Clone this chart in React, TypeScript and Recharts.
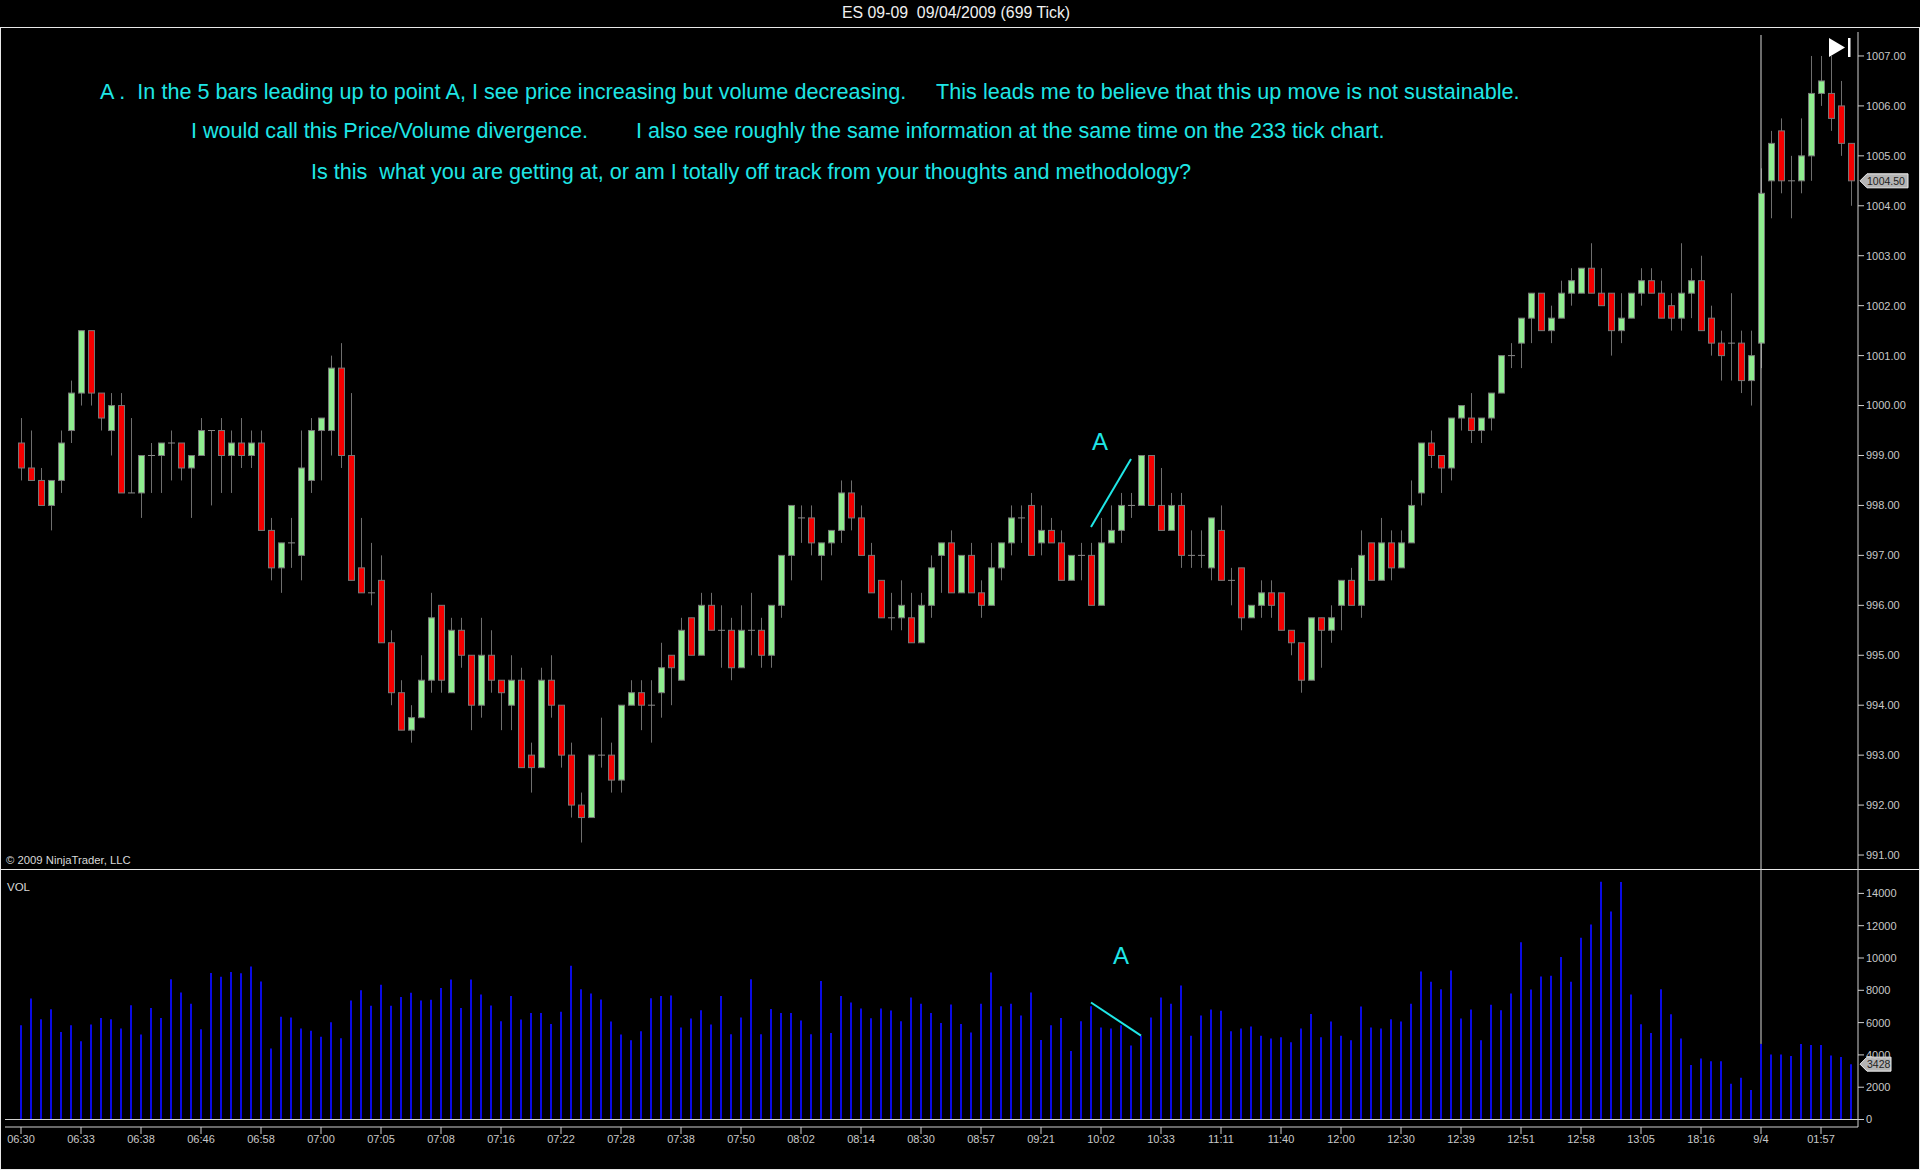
import React from "react";
import { ComposedChart, Bar, XAxis, YAxis, ReferenceLine, ReferenceDot } from "recharts";

const opens = [999.25,998.75,998.5,998,998.5,999.5,1000.25,1001.5,1000.25,999.5,1000,998.25,998.25,999,999,999.25,999.25,998.75,999,999.5,999.5,999,999.25,999,999.25,997.5,996.75,997.25,997,998.5,999.5,999.5,1000.75,999,996.75,996.25,996.5,995.25,994.25,993.5,993.75,994.5,996,994.25,995.5,995,994,995,994.5,994,994.5,993,992.75,994.5,994,993,992,991.75,993,993,992.5,994,994.25,994,994.25,995,994.5,995.75,995,996,995.5,995.5,994.75,995.5,995.5,995,996,997,997.75,997.75,997,997.25,997.5,998.25,997.75,997,996.5,995.75,995.75,995.75,995.25,996,997,997.25,996.25,997,996.25,996,996.75,997.25,997.75,998,997.25,997.5,997.25,996.5,997,997,996,997.25,997.5,998,998,999,998,997.5,998,997,997,996.75,997.5,996.5,996.75,995.75,996,996.25,996.25,995.5,995.25,994.5,995.75,995.5,996,996.5,996,997.25,996.5,997.25,996.75,997.25,998.25,999.25,999,998.75,999.75,999.75,999.5,999.75,1000.25,1001,1001.25,1001.75,1002.25,1001.5,1001.75,1002.25,1002.25,1002.75,1002.25,1002.25,1001.5,1001.75,1002.25,1002.5,1002.25,1002,1001.75,1002.25,1002.5,1001.75,1001.25,1001.25,1001.25,1000.5,1001.25,1004.5,1005.5,1004.5,1004.5,1005,1006.25,1006.25,1006,1005.25];
const highs = [999.75,999.5,998.75,998.5,999.5,1000.5,1001.5,1001.5,1000.25,1000.25,1000.25,999.75,999,999.25,999.25,999.5,999.25,999,999.75,999.5,999.75,999.5,999.75,999.5,999.5,997.75,997.25,997.75,999.5,999.75,999.75,1001,1001.25,1000.25,997.75,997.25,997,995.5,994.5,994,995,996.25,996,995.75,995.75,995,995.75,995.5,994.5,995,994.75,993.25,994.75,995,994,993.25,992.25,993,993.75,993.25,994,994.5,994.5,994.5,995.25,995,995.75,995.75,996.25,996.25,996,995.75,996,996.25,995.75,996,997,998,998,998,997.25,997.5,998.5,998.5,998,997.25,996.5,996.25,996.5,996.25,996.25,997,997.25,997.5,997,997.25,996.5,997.25,997.25,998,998,998.25,998,997.75,997.5,997,997.25,997.25,997.75,998,998.25,998.25,999,999,998.75,998.25,998.25,997.5,997.5,997.75,998,996.75,996.75,996,996.5,996.5,996.25,995.5,995.25,995.75,995.75,996,996.5,996.75,997.5,997.25,997.75,997.5,997.5,998.5,999.25,999.5,999,999.75,1000,1000.25,999.75,1000.25,1001,1001.25,1001.75,1002.25,1002.25,1002,1002.5,1002.75,1002.75,1003.25,1002.75,1002.25,1002.25,1002.25,1002.75,1002.75,1002.5,1002.25,1003.25,1002.75,1003,1002,1001.5,1002.25,1001.5,1001.5,1004.75,1005.5,1005.75,1005,1005.75,1007,1007,1007,1006.5,1005.25];
const lows = [998.5,998.5,998,997.5,998.25,999.25,1000,1000,999.5,999,998.25,998.25,997.75,998.25,998.25,998.5,998.5,997.75,999,998,998.25,998.25,998.75,998.75,997.5,996.5,996.25,996.75,996.5,998.25,998.5,999,998.75,996.5,996.25,996,995.25,994,993.5,993.25,993.75,994.25,994.25,994.25,994.75,993.5,993.75,994.25,993.5,993.5,992.75,992.25,992.75,993.75,992.75,991.75,991.25,991.75,992.75,992.25,992.25,994,993.5,993.25,993.75,994,994.5,995,995,995.5,994.75,994.5,994.75,995,994.75,994.75,995.75,996.5,997.25,997,996.5,997,997.25,997.5,997,996.25,995.75,995.5,995.5,995.25,995.25,995.75,996.25,996.25,996.25,996.25,995.75,996,996.5,997,997.25,997,997,997.25,996.5,996.5,996.5,996,996,997.25,997.25,997.75,998,998,997.5,997.5,996.75,996.75,996.75,996.5,996.5,996,995.5,995.75,995.75,995.75,995.5,995,994.25,994.5,994.75,995.25,995.5,996,995.75,996.5,996.5,996.5,996.75,997.25,998,998.75,998.25,998.5,999.5,999.25,999.25,999.5,1000.25,1000.75,1000.75,1001.25,1001.5,1001.25,1001.75,1002,1002.25,1002.25,1002,1001,1001.25,1001.75,1002,1002.25,1001.75,1001.5,1001.5,1001.75,1001.5,1001,1000.5,1000.5,1000.25,1000,1000.75,1003.75,1004.25,1003.75,1004.25,1004.5,1006,1005.5,1005,1004];
const closes = [998.75,998.5,998,998.5,999.25,1000.25,1001.5,1000.25,999.75,1000,998.25,998.25,999,999,999.25,999.25,998.75,999,999.5,999.5,999,999.25,999,999.25,997.5,996.75,997.25,997.25,998.75,999.5,999.75,1000.75,999,996.5,996.25,996.25,995.25,994.25,993.5,993.75,994.5,995.75,994.5,995.5,995,994,995,994.5,994.25,994.5,992.75,992.75,994.5,994,993,992,991.75,993,993,992.5,994,994.25,994,994,994.75,994.75,995.5,995,996,995.5,995.5,994.75,995.5,995.5,995,996,997,998,997.75,997.25,997.25,997.5,998.25,997.75,997,996.25,995.75,995.75,996,995.25,996,996.75,997.25,996.25,997,996.25,996,996.75,997.25,997.75,997.75,997,997.5,997.25,996.5,997,997,996,997.25,997.5,998,998,999,998,997.5,998,997,997,997,997.75,996.5,996.5,995.75,996,996.25,996,995.5,995.25,994.5,995.75,995.5,995.75,996.5,996,997,996.5,997.25,996.75,997.25,998,999.25,999,998.75,999.75,1000,999.5,999.75,1000.25,1001,1001,1001.75,1002.25,1001.5,1001.75,1002.25,1002.5,1002.75,1002.25,1002,1001.5,1001.75,1002.25,1002.5,1002.25,1001.75,1001.75,1002.25,1002.5,1001.5,1001.25,1001,1001.25,1000.5,1001,1004.25,1005.25,1004.5,1004.5,1005,1006.25,1006.5,1005.75,1005.25,1004.5];
const volumes = [5840,7490,6210,6830,5420,5840,4840,5880,6290,6210,5630,7080,5260,6910,6290,8690,7870,7160,5590,9070,8840,9130,9050,9480,8550,4390,6360,6310,5630,5490,5130,6020,5030,7370,8010,7040,8340,7040,7580,7850,7370,7410,8140,8670,6910,8670,7740,7060,6090,7640,6190,6600,6600,5920,6670,9520,8070,7800,7430,6070,5260,4910,5470,7510,7640,7680,5690,6250,6770,5880,7640,5280,6310,8690,5280,6850,6600,6600,6130,5280,8570,5360,7640,7250,6870,6270,6870,6750,6090,7560,7160,6600,5980,7120,5920,5380,7160,9110,7020,7160,6440,7870,4930,5840,6290,4240,6090,7020,5690,5630,5840,4580,5180,6310,7560,7160,8300,5180,6440,6810,6730,5470,5630,5760,5180,5010,5090,4780,5630,6540,5090,6070,5180,4910,7000,5690,5630,6210,6070,7160,9170,8530,8070,9230,6250,6810,4910,7100,6770,7800,10970,8050,8860,8900,10060,8530,11260,12070,14720,12880,14700,7740,5900,5360,8070,6520,5010,3370,3770,3600,3600,2220,2590,1820,4680,4020,4020,3930,4680,4620,4620,3970,3870,3428];
const timeLabels = ["06:30","06:33","06:38","06:46","06:58","07:00","07:05","07:08","07:16","07:22","07:28","07:38","07:50","08:02","08:14","08:30","08:57","09:21","10:02","10:33","11:11","11:40","12:00","12:30","12:39","12:51","12:58","13:05","18:16","9/4","01:57"];
const priceTicks = [991,992,993,994,995,996,997,998,999,1000,1001,1002,1003,1004,1005,1006,1007];
const volumeTicks = [0,2000,4000,6000,8000,10000,12000,14000];
const titleText = "ES 09-09  09/04/2009 (699 Tick)";
const noteLines = [
  "A .  In the 5 bars leading up to point A, I see price increasing but volume decreasing.     This leads me to believe that this up move is not sustainable.",
  "I would call this Price/Volume divergence.        I also see roughly the same information at the same time on the 233 tick chart.",
  "Is this  what you are getting at, or am I totally off track from your thoughts and methodology?",
];

const candles = opens.map((o, i) => ({ idx: i, open: o, high: highs[i], low: lows[i], close: closes[i], range: [lows[i], highs[i]] }));
const volumeRows = volumes.map((v, i) => ({ idx: i, volume: v }));
const CROSS = 174;

const FONT = "'Liberation Sans', Arial, sans-serif";
const CYAN = "#1fe6e6";
const AXIS = "#d0d0d0";
const WICK = "#6e6e6e";

function Candle(props: any) {
  const { x, y, width, height, payload } = props;
  const { open, close, high, low } = payload;
  const unit = height / (high - low);
  const cx = x + width / 2;
  const top = y + (high - Math.max(open, close)) * unit;
  const bodyH = Math.abs(open - close) * unit;
  const up = close > open;
  return (
    <g>
      <line x1={cx} x2={cx} y1={y} y2={y + height} stroke={WICK} strokeWidth={1} />
      {bodyH === 0 ? (
        <line x1={cx - 3.5} x2={cx + 3.5} y1={top} y2={top} stroke="#8a8a8a" strokeWidth={1} />
      ) : (
        <rect x={cx - 3} y={top} width={6} height={bodyH} fill={up ? "#90ee90" : "#f40000"} stroke="#777" strokeWidth={1} />
      )}
    </g>
  );
}

function PriceTag(props: any) {
  const { cx, cy, w, label } = props;
  const l = cx + 9;
  return (
    <g>
      <path d={`M${l} ${cy} L${l + 7} ${cy - 7} H${l + w} V${cy + 7} H${l + 7} Z`} fill="#b4b4b4" stroke="#eee" strokeWidth={1} />
      <text x={l + 7} y={cy + 4} fontSize={10.5} fontFamily={FONT} fill="#222">{label}</text>
    </g>
  );
}

const axisTick = { fill: "#c8c8c8", fontSize: 11, fontFamily: FONT };

const abs = (left: number, top: number, extra: any = {}) => ({
  position: "absolute" as const, left, top, whiteSpace: "pre" as const, fontFamily: FONT, ...extra,
});

export default function App() {
  return (
    <div style={{ position: "absolute", left: 0, top: 0, width: 1920, height: 1170, background: "#000", overflow: "hidden" }}>
      <div style={{ position: "absolute", left: 0, top: 27, width: 1918, height: 1141, border: "1px solid #e8e8e8" }} />
      <div style={{ position: "absolute", left: 0, top: 869, width: 1920, height: 1, background: "#e8e8e8" }} />

      <div style={{ position: "absolute", left: 0, top: 0 }}>
        <ComposedChart width={1920} height={869} data={candles} margin={{ top: 32, right: 0, bottom: 0, left: 5 }}>
          <XAxis dataKey="idx" type="category" hide height={0} padding={{ left: 11, right: 2 }} />
          <YAxis orientation="right" width={62} domain={[990.72, 1007.48]} ticks={priceTicks} interval={0}
            tickFormatter={(v: number) => v.toFixed(2)} tick={axisTick} tickSize={6} tickMargin={2}
            axisLine={{ stroke: AXIS }} tickLine={{ stroke: AXIS }} />
          <ReferenceLine segment={[{ x: CROSS, y: 1007.42 }, { x: CROSS, y: closes[CROSS] }]} stroke="#d8d8d8" strokeWidth={1} />
          <ReferenceLine segment={[{ x: CROSS, y: opens[CROSS] }, { x: CROSS, y: 990.72 }]} stroke="#d8d8d8" strokeWidth={1} />
          <Bar dataKey="range" barSize={7} isAnimationActive={false} shape={Candle} />
          <ReferenceLine segment={[{ x: 107, y: 997.57 }, { x: 111, y: 998.93 }]} stroke={CYAN} strokeWidth={2} />
          <ReferenceDot x={183} y={1004.5} r={0} shape={(p: any) => <PriceTag {...p} w={48} label="1004.50" />} />
        </ComposedChart>
      </div>

      <div style={{ position: "absolute", left: 0, top: 869 }}>
        <ComposedChart width={1920} height={301} data={volumeRows} margin={{ top: 0, right: 0, bottom: 0, left: 5 }}>
          <XAxis dataKey="idx" type="category" interval={5} height={43} padding={{ left: 11, right: 2 }}
            tickFormatter={(v: number) => timeLabels[v / 6] ?? ""} tick={axisTick} tickSize={7} tickMargin={1}
            axisLine={{ stroke: AXIS }} tickLine={{ stroke: AXIS }} />
          <YAxis orientation="right" width={62} domain={[-464, 15511]} ticks={volumeTicks} interval={0}
            tick={axisTick} tickSize={6} tickMargin={2} axisLine={{ stroke: AXIS }} tickLine={{ stroke: AXIS }} />
          <ReferenceLine segment={[{ x: CROSS, y: 15511 }, { x: CROSS, y: volumes[CROSS] }]} stroke="#d8d8d8" strokeWidth={1} />
          <ReferenceLine y={0} stroke="#cfcfcf" strokeWidth={1} />
          <Bar dataKey="volume" barSize={2} fill="#0a0ae6" isAnimationActive={false} />
          <ReferenceLine segment={[{ x: 107, y: 7245 }, { x: 112, y: 5195 }]} stroke={CYAN} strokeWidth={2} />
          <ReferenceDot x={183} y={3428} r={0} shape={(p: any) => <PriceTag {...p} w={31} label="3428" />} />
        </ComposedChart>
      </div>

      <div style={abs(842, 4, { color: "#f0f0f0", fontSize: 15.85, lineHeight: "18px" })}>{titleText}</div>
      <div style={abs(100, 79, { color: CYAN, fontSize: 21.58, lineHeight: "26px", letterSpacing: 0.03 })}>{noteLines[0]}</div>
      <div style={abs(191, 118, { color: CYAN, fontSize: 21.58, lineHeight: "26px" })}>{noteLines[1]}</div>
      <div style={abs(311, 159, { color: CYAN, fontSize: 21.58, lineHeight: "26px" })}>{noteLines[2]}</div>
      <div style={abs(1092, 428, { color: CYAN, fontSize: 24, lineHeight: "28px" })}>A</div>
      <div style={abs(1113, 942, { color: CYAN, fontSize: 24, lineHeight: "28px" })}>A</div>
      <div style={abs(6, 853, { color: "#d8d8d8", fontSize: 11.3, lineHeight: "14px" })}>© 2009 NinjaTrader, LLC</div>
      <div style={abs(7, 880, { color: "#d8d8d8", fontSize: 11.5, lineHeight: "14px" })}>VOL</div>
      <svg style={{ position: "absolute", left: 1825, top: 34 }} width={30} height={28}>
        <path d="M4 4 L20 13.5 L4 23 Z" fill="#fff" />
        <rect x={23} y={4} width={2.5} height={19} fill="#fff" />
      </svg>
    </div>
  );
}
